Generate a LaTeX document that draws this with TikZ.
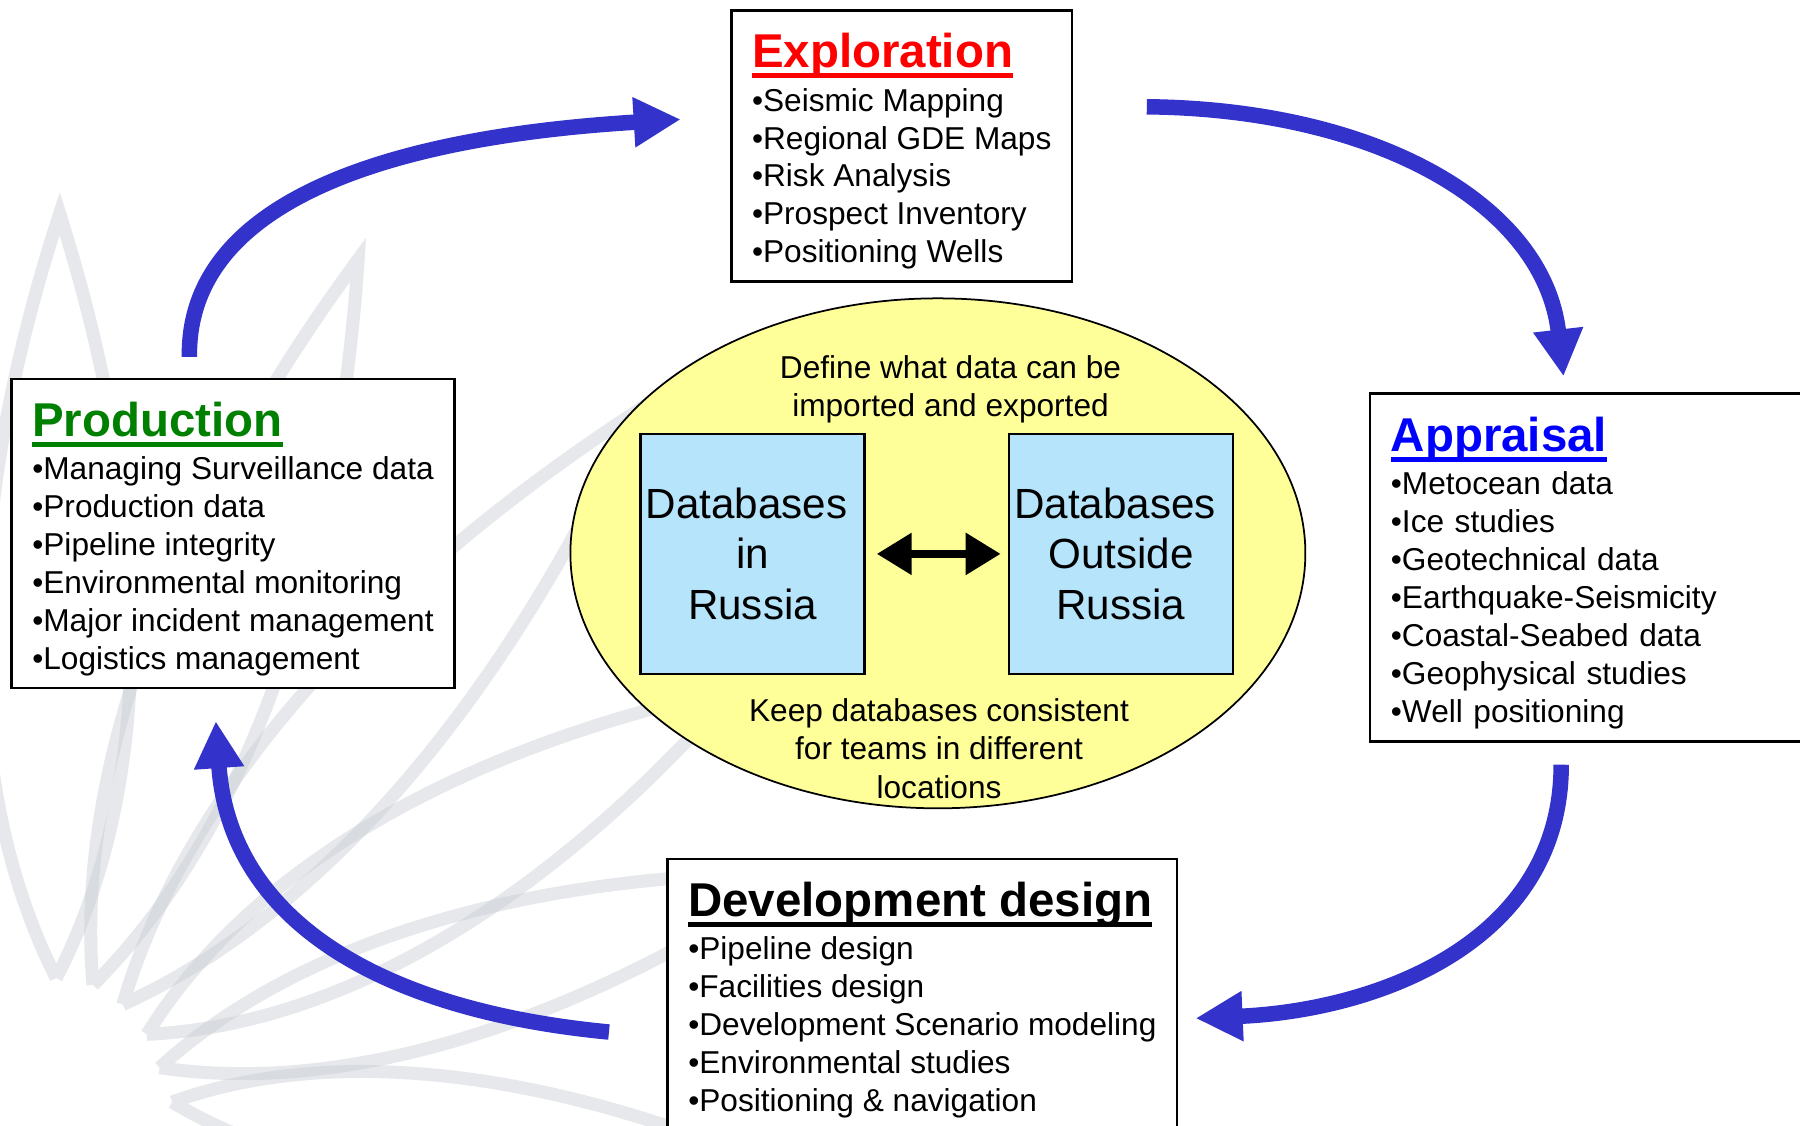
\documentclass[tikz,border=0pt]{standalone}
\usepackage{fontspec}
\setmainfont{Liberation Sans}
\usetikzlibrary{positioning,shapes.geometric,arrows.meta,calc}

\definecolor{flowblue}{RGB}{51,51,204}
\definecolor{coreyellow}{RGB}{255,255,153}
\definecolor{dbblue}{RGB}{181,228,251}
\definecolor{leafgray}{RGB}{200,205,212}
\definecolor{titlegreen}{RGB}{0,128,0}

\newcommand{\ulin}[1]{\setbox0\hbox{#1}\rlap{\rule[-3pt]{\wd0}{1.5pt}}\box0}
\newcommand{\stagetitle}[2]{\rule{0pt}{13pt}\textcolor{#1}{\ulin{\fontsize{13.5}{14}\selectfont\bfseries #2}}}
% one petal of the lotus: base, tip, half width
\newcommand{\petal}[3]{\draw[leaf] (#1) .. controls ($(#1)!0.25!(#2)!#3!90:(#2)$) and ($(#1)!0.6!(#2)!#3!90:(#2)$) .. (#2)
  .. controls ($(#1)!0.6!(#2)!#3!-90:(#2)$) and ($(#1)!0.25!(#2)!#3!-90:(#2)$) .. (#1);}

\tikzset{
  stage/.style={draw,line width=0.7pt,fill=white,inner xsep=2.07mm,inner ysep=1mm,align=left,font=\fontsize{9}{10.8}\selectfont},
  dbbox/.style={draw,line width=0.7pt,fill=dbblue,inner sep=0pt,minimum width=22.4mm,minimum height=24mm,align=center,font=\fontsize{12}{14.4}\selectfont},
  core/.style={ellipse,draw,line width=0.5pt,fill=coreyellow,minimum width=73.5mm,minimum height=51mm,inner sep=0pt},
  note/.style={align=center,font=\fontsize{9}{11}\selectfont},
  sync/.style={line width=0.85mm,{Triangle[length=3.5mm,width=4mm]}-{Triangle[length=3.5mm,width=4mm]},shorten <=1.1mm,shorten >=0.7mm},
  flow/.style={draw=flowblue,line width=1.55mm,-{Triangle[length=4.7mm,width=4.7mm]}},
  leaf/.style={draw=leafgray,draw opacity=0.45,line width=1.3mm}
}

\begin{document}
\begin{tikzpicture}[x=0.1148mm,y=-0.1148mm,node distance=36.85mm]
  \useasboundingbox (0,0) rectangle (1568,980);
  \clip (0,0) rectangle (1568,980);
  \fill[white] (0,0) rectangle (1568,980);

  % lotus in the background
  \petal{49,852}{52,186}{9.8mm}
  \petal{81,858}{312,226}{9mm}
  \petal{107,875}{555,358}{9mm}
  \petal{128,901}{640,600}{9mm}
  \petal{139,930}{700,760}{8mm}
  \petal{150,960}{660,1010}{7mm}

  % data exchange
  \node[core] (core) at (817,482) {};
  \node[dbbox] (dbin) at (655.5,482.5) {Databases\kern3.3pt\\in\\Russia};
  \node[dbbox,on grid,right=of dbin] (dbout) {Databases\kern3.3pt\\Outside\\Russia};
  \node[note] (define) at (828,339) {Define what data can be\\imported and exported};
  \node[note] (keep) at (818,652) {Keep databases consistent\\for teams in different\\locations};
  \draw[sync] (dbin) -- (dbout);

  % the four stages
  \node[stage,minimum height=27.1mm] (expl) at (785.5,127) {\stagetitle{red}{Exploration}\\[1.5pt]
    •Seismic Mapping\\•Regional GDE Maps\\•Risk Analysis\\•Prospect Inventory\\•Positioning Wells};
  \node[stage,minimum height=34.8mm,text width=41.3mm] (appr) at (1391.5,494.5) {\stagetitle{blue}{Appraisal}\\[1.5pt]
    •Metocean data\\•Ice studies\\•Geotechnical data\\•Earthquake-Seismicity\\•Coastal-Seabed data\\•Geophysical studies\\•Well positioning};
  \node[stage,minimum height=27.1mm,anchor=north] (dev) at (803.5,747) {\stagetitle{black}{Development design}\\[1.5pt]
    •Pipeline design\\•Facilities design\\•Development Scenario modeling\\•Environmental studies\\•Positioning \& navigation};
  \node[stage,minimum height=30.9mm] (prod) at (203,464.5) {\stagetitle{titlegreen}{Production}\\[1.5pt]
    •Managing Surveillance data\\•Production data\\•Pipeline integrity\\•Environmental monitoring\\•Major incident management\\•Logistics management};

  % the cycle
  \draw[flow] ([shift={(-38,-18)}]prod.north) .. controls +(-2,-132) and +(-263,16) .. ([shift={(-43,-23)}]expl.west);
  \draw[flow] ([shift={(64,-34)}]expl.east) .. controls +(201,2) and +(-17,-149) .. ([shift={(-29.5,-14)}]appr.north);
  \draw[flow] ([shift={(-31.5,19)}]appr.south) .. controls +(0,155) and +(158,-7) .. ([shift={(15,140)}]dev.north east);
  \draw[flow] ([shift={(-50,152)}]dev.north west) .. controls +(-200,-19) and +(12,173) .. ([shift={(-15,28)}]prod.south);
\end{tikzpicture}
\end{document}
